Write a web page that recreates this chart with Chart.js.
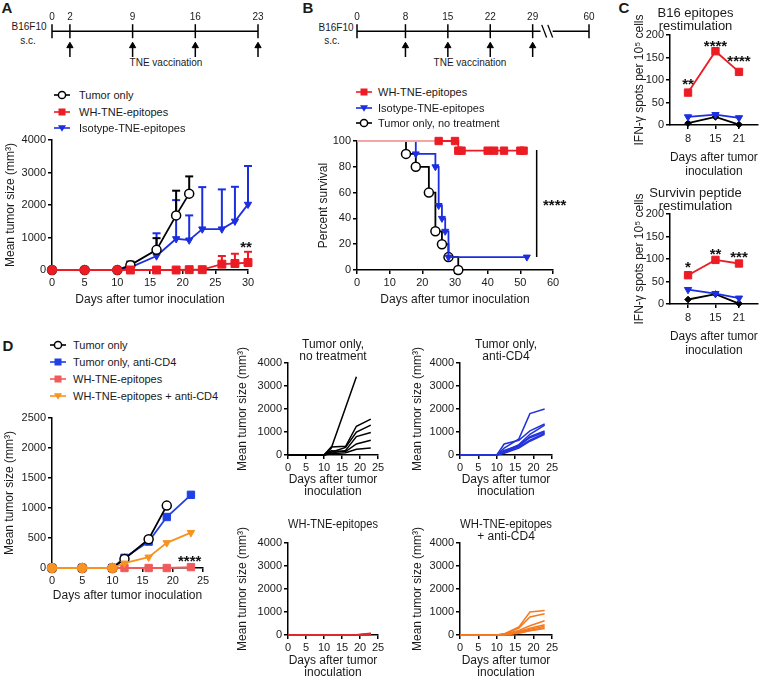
<!DOCTYPE html>
<html>
<head>
<meta charset="utf-8">
<script src="https://cdn.jsdelivr.net/npm/chart.js@4.4.1/dist/chart.umd.min.js"></script>
<style>
  html, body { margin: 0; padding: 0; background: #fff; }
  body { width: 764px; height: 691px; position: relative; overflow: hidden;
         font-family: "Liberation Sans", Arial, Helvetica, sans-serif; color: #1a1a1a; }
  canvas { position: absolute; }
  .txt { position: absolute; white-space: nowrap; line-height: 1; transform: translate(-50%, -50%); }
  .leg { position: absolute; height: 14px; font-size: 11px; white-space: nowrap; z-index: 5; }
</style>
</head>
<body>
<script>
// Tumour growth / survival / ELISpot figure, panels A-D

Chart.defaults.font.family = '"Liberation Sans", Arial, Helvetica, sans-serif';
Chart.defaults.color = '#1a1a1a';

const RED = '#ec1c24', BLUE = '#1b2ee0', BLACK = '#000000', PINK = '#f4a6a6';
const D_BLUE = '#1e40e6', D_RED = '#f15a5a', D_ORANGE = '#f7931e';
const M_BLUE = '#2233d9', M_RED = '#dd2a2a', M_ORANGE = '#f47a20';

// ---------- data ----------
// timelines (days)
const tlADays = [0, 2, 9, 16, 23];
const tlAVacc = [2, 9, 16, 23];
const tlBDays = [0, 8, 15, 22, 29, 60];
const tlBVacc = [8, 15, 22, 29];

// A: mean tumour size (mm3) + upper error bar
const daysA = [0, 5, 10, 12, 16, 19, 21, 23, 26, 28, 30];
const tumorA = [0, 0, 0, 150, 620, 1680, 2350];
const tumorErrA = [0, 0, 0, 260, 980, 2440, 2880];
const whA = [0, 0, 0, 0, 0, 0, 10, 10, 180, 200, 230];
const whErrA = [0, 0, 0, 0, 0, 0, 0, 0, 430, 500, 560];
const isoA = [0, 0, 0, 80, 430, 960, 920, 1260, 1260, 1500, 2020];
const isoErrA = [0, 0, 0, 0, 1130, 2150, 1680, 2550, 2480, 2560, 3200];

// B: percent survival
const survWhDays = [0, 25, 30, 31, 32, 40, 42, 45, 50, 51];
const survWh = [100, 100, 100, 92.5, 92.5, 92.5, 92.5, 92.5, 92.5, 92.5];
const survIsoDays = [0, 18, 24, 25, 26, 27, 28, 52];
const survIso = [100, 90, 80, 50, 40, 30, 10, 10];
const survTumorDays = [0, 15, 18, 22, 24, 26, 28, 31];
const survTumor = [100, 90, 80, 60, 30, 20, 10, 0];

// C: IFN-g spots per 1e5 cells
const daysC = [8, 15, 21];
const b16Wh = [72, 164, 118];
const b16Iso = [18, 23, 16];
const b16Tumor = [4, 18, 1];
const b16Stars = ['**', '****', '****'];
const b16StarY = [100, 184, 151];
const survWhC = [64, 98, 90];
const survIsoC = [32, 23, 13];
const survTumorC = [10, 22, 1];
const survStars = ['*', '**', '***'];
const survStarY = [91, 120, 113];

// D: mean tumour size (mm3)
const daysD = [0, 5, 10, 12, 16, 19, 23];
const tumorD = [0, 0, 0, 150, 480, 1040];
const tumorCd4D = [0, 0, 0, 170, 440, 850, 1220];
const whD = [0, 0, 0, 0, 0, 0, 15];
const whCd4D = [0, 0, 0, 80, 180, 420, 590];

// D: individual mice
const miceTumor = [
  [0, 0, 0, 290, 2060, 3400],
  [0, 0, 0, 350, 380, 1250, 1560],
  [0, 0, 0, 120, 330, 1000, 1300],
  [0, 0, 0, 80, 200, 800, 980],
  [0, 0, 0, 180, 150, 480, 640],
  [0, 0, 0, 50, 100, 250, 300]
];
const miceTumorCd4 = [
  [0, 0, 0, 300, 700, 1800, 2000],
  [0, 0, 0, 480, 640, 1050, 1350],
  [0, 0, 0, 150, 450, 900, 1300],
  [0, 0, 0, 100, 400, 750, 1000],
  [0, 0, 0, 120, 350, 650, 950],
  [0, 0, 0, 80, 300, 600, 900],
  [0, 0, 0, 200, 420, 800, 1050]
];
const miceWh = [
  [0, 0, 0, 0, 0, 10, 80],
  [0, 0, 0, 0, 0, 5, 60],
  [0, 0, 0, 0, 0, 0, 40],
  [0, 0, 0, 0, 0, 0, 20],
  [0, 0, 0, 0, 0, 0, 5]
];
const miceWhCd4 = [
  [0, 0, 0, 50, 350, 1000, 1060],
  [0, 0, 0, 40, 300, 780, 920],
  [0, 0, 0, 30, 200, 400, 620],
  [0, 0, 0, 20, 150, 300, 450],
  [0, 0, 0, 20, 120, 250, 380],
  [0, 0, 0, 10, 100, 200, 320],
  [0, 0, 0, 10, 80, 180, 280]
];

// ---------- helpers ----------
function makeCanvas(b) {
  const c = document.createElement('canvas');
  c.width = b.w; c.height = b.h;
  c.style.left = b.x + 'px'; c.style.top = b.y + 'px';
  c.style.width = b.w + 'px'; c.style.height = b.h + 'px';
  document.body.appendChild(c);
  return c;
}

function txt(s, cx, cy, size, bold) {
  const d = document.createElement('div');
  d.className = 'txt';
  d.textContent = s;
  d.style.left = cx + 'px'; d.style.top = cy + 'px';
  d.style.fontSize = size + 'px';
  if (bold) d.style.fontWeight = 'bold';
  document.body.appendChild(d);
}

const xy = (xs, ys) => ys.map((v, i) => ({x: xs[i], y: v}));

function series(xs, ys, color, o) {
  return Object.assign({
    data: xy(xs, ys), borderColor: color, borderWidth: 1.8, clip: false,
    pointStyle: 'circle', pointRadius: 4.5, pointBackgroundColor: color,
    pointBorderColor: color, pointBorderWidth: 1
  }, o || {});
}

// upper error bars: one small line dataset per point, cap drawn as a 'line' point
function errBars(xs, means, errs, color) {
  const out = [];
  means.forEach((m, i) => {
    if (errs[i] > m) out.push({
      data: [{x: xs[i], y: m}, {x: xs[i], y: errs[i]}], borderColor: color, borderWidth: 2,
      pointStyle: 'line', pointRadius: [0, 4], pointBorderColor: color, pointBorderWidth: 2, clip: false
    });
  });
  return out;
}

function starPlugin(items) {
  return {
    id: 'stars',
    afterDatasetsDraw(chart) {
      const {ctx, scales: {x, y}} = chart;
      ctx.save();
      ctx.fillStyle = '#111';
      ctx.textAlign = 'center';
      ctx.textBaseline = 'alphabetic';
      ctx.font = 'bold 15px "Liberation Sans", Arial, sans-serif';
      items.forEach(s => ctx.fillText(s.text, x.getPixelForValue(s.x), y.getPixelForValue(s.y) + 8.5));
      ctx.restore();
    }
  };
}

function axis(a, which, box, area) {
  const lh = 12 * (a.titleLh || 1.2);
  const s = {
    type: 'linear', min: a.min, max: a.max,
    ticks: {stepSize: a.step, font: {size: 11}, color: '#1a1a1a', padding: a.pad ?? 2,
            autoSkip: false, maxRotation: 0, callback: v => v},
    grid: {drawOnChartArea: false, color: '#000', lineWidth: 1.5, tickLength: 4},
    border: {color: '#000', width: 1.5},
    title: {display: true, text: a.title, color: '#1a1a1a', font: {size: 12, lineHeight: a.titleLh || 1.2}}
  };
  if (which === 'x') {
    s.title.padding = {top: 0, bottom: box.y + box.h - a.titleY - lh / 2};
    s.afterFit = sc => { sc.height = box.y + box.h - area.b; };
  } else {
    s.title.padding = {top: a.titleX - box.x - lh / 2, bottom: 0};
    s.afterFit = sc => { sc.width = area.l - box.x; };
  }
  if (a.ticks) s.afterBuildTicks = sc => { sc.ticks = a.ticks.map(v => ({value: v})); };
  return s;
}

function plot(o) {
  const {box, area} = o;
  const c = makeCanvas(box);
  const opts = {
    responsive: false, animation: false, devicePixelRatio: 1,
    layout: {padding: {left: 0, bottom: 0, right: box.x + box.w - area.r, top: o.title ? 0 : area.t - box.y}},
    plugins: {legend: {display: false}, tooltip: {enabled: false}},
    scales: {x: axis(o.x, 'x', box, area), y: axis(o.y, 'y', box, area)}
  };
  if (o.title) {
    const t = o.title, n = t.text.length;
    const padTop = t.y - t.size / 2 - box.y;
    opts.plugins.title = {
      display: true, text: t.text, color: '#1a1a1a', fullSize: !!t.full,
      font: {size: t.size, weight: 'normal', lineHeight: 1},
      padding: {top: padTop, bottom: area.t - box.y - padTop - n * t.size}
    };
  }
  return new Chart(c, {type: 'line', data: {datasets: o.datasets}, options: opts,
                       plugins: [starPlugin(o.stars || [])]});
}

function timeline(box, area, days, vacc, pos, pieces, slashes) {
  const c = makeCanvas(box);
  const ds = [];
  pieces.forEach(p => ds.push({data: [{x: p[0], y: 0}, {x: p[1], y: 0}], borderColor: '#000',
                               borderWidth: 1.5, pointRadius: 0, clip: false}));
  ds.push({data: days.map(d => ({x: pos(d), y: 0})), showLine: false, pointStyle: 'line',
           pointRotation: 90, pointRadius: 7, pointBorderColor: '#000', pointBorderWidth: 1.5, clip: false});
  vacc.forEach(d => ds.push({data: [{x: pos(d), y: -5.3}, {x: pos(d), y: -9}], borderColor: '#000',
                             borderWidth: 1.5, pointRadius: 0, clip: false}));
  ds.push({data: vacc.map(d => ({x: pos(d), y: -5.1})), showLine: false, pointStyle: 'triangle',
           pointRadius: 3.6, pointBackgroundColor: '#000', pointBorderColor: '#000', pointBorderWidth: 1, clip: false});
  slashes.forEach(s => ds.push({data: [{x: s, y: 2.2}, {x: s + 0.8, y: -2.2}], borderColor: '#000',
                                borderWidth: 1.3, pointRadius: 0, clip: false}));
  new Chart(c, {type: 'line', data: {datasets: ds}, options: {
    responsive: false, animation: false, devicePixelRatio: 1,
    layout: {padding: {left: area.l - box.x, right: box.x + box.w - area.r, top: 0, bottom: box.y + box.h - area.b}},
    plugins: {legend: {display: false}, tooltip: {enabled: false}},
    scales: {
      x: {type: 'linear', position: 'top', min: pos(days[0]), max: pos(days[days.length - 1]),
          grid: {display: false, drawTicks: false}, border: {display: false},
          ticks: {font: {size: 10}, padding: 1, color: '#1a1a1a', autoSkip: false, maxRotation: 0,
                  callback: (v, i) => days[i]},
          afterBuildTicks: s => { s.ticks = days.map(d => ({value: pos(d)})); },
          afterFit: s => { s.height = area.t - box.y; }},
      y: {display: false, min: -10, max: 2.5}
    }
  }});
}

function legendSym(kind, color) {
  if (kind === 'open') return `<circle cx="8" cy="7" r="3.6" fill="#fff" stroke="${color}" stroke-width="1.5"/>`;
  if (kind === 'square') return `<rect x="4.5" y="3.5" width="7" height="7" fill="${color}"/>`;
  return `<polygon points="4,4.2 12,4.2 8,10.8" fill="${color}"/>`;
}

function legend(x, y, gap, textDx, items) {
  items.forEach((it, i) => {
    const d = document.createElement('div');
    d.className = 'leg';
    d.style.left = x + 'px';
    d.style.top = (y + i * gap - 7) + 'px';
    d.innerHTML = `<svg width="16" height="14" style="position:absolute;left:0;top:0">` +
      `<line x1="0" y1="7" x2="16" y2="7" stroke="${it.color}" stroke-width="1.6"/>${legendSym(it.kind, it.color)}</svg>` +
      `<span style="position:absolute;left:${textDx}px;top:0;line-height:14px">${it.label}</span>`;
    document.body.appendChild(d);
  });
}

// ---------- panel letters and timeline text ----------
txt('A', 7, 7, 15, true);
txt('B', 308, 7, 15, true);
txt('C', 624, 7, 15, true);
txt('D', 8, 345, 15, true);
txt('B16F10', 29, 27, 10); txt('s.c.', 28, 41, 10);
txt('B16F10', 336, 28, 10); txt('s.c.', 332, 41, 10);
txt('TNE vaccination', 166, 63, 10);
txt('TNE vaccination', 470, 63, 10);

// ---------- timelines ----------
timeline({x: 0, y: 0, w: 275, h: 75}, {l: 52, r: 258, t: 24, b: 60}, tlADays, tlAVacc, d => d,
         [[0, 23]], []);
const brk = d => d <= 29 ? d : 29 + (d - 29) * 0.3;
timeline({x: 300, y: 0, w: 320, h: 75}, {l: 357, r: 589, t: 24, b: 60}, tlBDays, tlBVacc, brk,
         [[0, 30.3], [32.3, brk(60)]], [30.5, 31.5]);

// ---------- A ----------
const styleA = daysA.map(d => d <= 10 ? 'circle' : 'rect');
plot({
  box: {x: 0, y: 126, w: 262, h: 182}, area: {l: 52, t: 140, r: 248, b: 270},
  x: {min: 0, max: 30, step: 5, title: 'Days after tumor inoculation', titleY: 300},
  y: {min: 0, max: 4000, step: 1000, title: 'Mean tumor size (mm³)', titleX: 11},
  datasets: [
    series(daysA, whA, RED, {pointStyle: styleA, pointRadius: daysA.map(d => d <= 10 ? 4.6 : 5.6)}),
    series(daysA, tumorA, BLACK, {pointBackgroundColor: '#fff', pointBorderWidth: 1.5}),
    series(daysA, isoA, BLUE, {pointStyle: 'triangle', pointRotation: 180, pointRadius: 4.2}),
    ...errBars(daysA, tumorA, tumorErrA, BLACK),
    ...errBars(daysA, isoA, isoErrA, BLUE),
    ...errBars(daysA, whA, whErrA, RED)
  ],
  stars: [{x: 29.7, y: 830, text: '**'}]
});
legend(54, 95, 16.5, 25, [
  {label: 'Tumor only', color: BLACK, kind: 'open'},
  {label: 'WH-TNE-epitopes', color: RED, kind: 'square'},
  {label: 'Isotype-TNE-epitopes', color: BLUE, kind: 'tri'}
]);

// ---------- B ----------
const rads = (n, r) => Array.from({length: n}, (_, i) => i === 0 ? 0 : r);
plot({
  box: {x: 312, y: 127, w: 268, h: 181}, area: {l: 357, t: 141, r: 553, b: 270},
  x: {min: 0, max: 60, step: 10, title: 'Days after tumor inoculation', titleY: 300},
  y: {min: 0, max: 100, step: 20, title: 'Percent survival', titleX: 324},
  datasets: [
    series(survWhDays, survWh, RED, {stepped: true, pointStyle: 'rect', pointRadius: rads(survWh.length, 5.2),
      segment: {borderColor: c => c.p1.parsed.x <= 25 ? PINK : RED}}),
    series(survIsoDays, survIso, BLUE, {stepped: true, pointStyle: 'triangle', pointRotation: 180,
      pointRadius: rads(survIso.length, 4)}),
    series(survTumorDays, survTumor, BLACK, {stepped: true, pointBackgroundColor: '#fff', pointBorderWidth: 1.5,
      pointRadius: rads(survTumor.length, 4.5)}),
    {data: [{x: 55, y: 93}, {x: 55, y: 10}], borderColor: '#000', borderWidth: 1.5, pointRadius: 0, clip: false}
  ],
  stars: [{x: 60.5, y: 53, text: '****'}]
});
legend(356, 92, 15.5, 22, [
  {label: 'WH-TNE-epitopes', color: RED, kind: 'square'},
  {label: 'Isotype-TNE-epitopes', color: BLUE, kind: 'tri'},
  {label: 'Tumor only, no treatment', color: BLACK, kind: 'open'}
]);

// ---------- C ----------
function elispot(boxY, areaT, areaB, titleY, xLastY, title, wh, iso, tum, stars, starY) {
  plot({
    box: {x: 628, y: boxY, w: 136, h: xLastY + 8 - boxY}, area: {l: 670, t: areaT, r: 763, b: areaB},
    title: {text: title, size: 13, y: titleY, full: true},
    x: {min: 3.4, max: 25.8, ticks: daysC, pad: 3, title: ['Days after tumor', 'inoculation'], titleY: xLastY},
    y: {min: 0, max: 200, step: 50, title: 'IFN-γ spots per 10⁵ cells', titleX: 640},
    datasets: [
      series(daysC, wh, RED, {pointStyle: 'rect', pointRadius: 5.2}),
      series(daysC, iso, BLUE, {pointStyle: 'triangle', pointRotation: 180, pointRadius: 4.2}),
      series(daysC, tum, BLACK, {pointStyle: 'rectRot', pointRadius: 3.3})
    ],
    stars: stars.map((s, i) => ({x: daysC[i], y: starY[i], text: s}))
  });
}
elispot(0, 35, 125, 13, 172, ['B16 epitopes', 'restimulation'], b16Wh, b16Iso, b16Tumor, b16Stars, b16StarY);
elispot(180, 214, 304, 193, 351, ['Survivin peptide', 'restimulation'], survWhC, survIsoC, survTumorC, survStars, survStarY);

// ---------- D main ----------
plot({
  box: {x: 0, y: 406, w: 215, h: 198}, area: {l: 52, t: 418, r: 203, b: 568},
  x: {min: 0, max: 25, step: 5, title: 'Days after tumor inoculation', titleY: 596},
  y: {min: 0, max: 2500, step: 500, title: 'Mean tumor size (mm³)', titleX: 10},
  datasets: [
    series(daysD, whCd4D, D_ORANGE, {pointStyle: daysD.map(d => d <= 10 ? 'circle' : 'triangle'),
      pointRotation: 180, pointRadius: daysD.map(d => d <= 10 ? 4.6 : 4.3)}),
    series(daysD, whD, D_RED, {pointStyle: daysD.map(d => d <= 10 ? 'circle' : 'rect'),
      pointRadius: daysD.map(d => d <= 10 ? 4.6 : 5.2)}),
    series(daysD, tumorD, BLACK, {pointBackgroundColor: '#fff', pointBorderWidth: 1.5}),
    series(daysD, tumorCd4D, D_BLUE, {pointStyle: 'rect', pointRadius: 5.2})
  ],
  stars: [{x: 22.8, y: 180, text: '****'}]
});
legend(50, 345, 17, 23, [
  {label: 'Tumor only', color: BLACK, kind: 'open'},
  {label: 'Tumor only, anti-CD4', color: D_BLUE, kind: 'square'},
  {label: 'WH-TNE-epitopes', color: D_RED, kind: 'square'},
  {label: 'WH-TNE-epitopes + anti-CD4', color: D_ORANGE, kind: 'tri'}
]);

// ---------- D individual mice ----------
function mice(bx, by, bw, bh, area, title, titleY, xLastY, yTitleX, lines, color) {
  plot({
    box: {x: bx, y: by, w: bw, h: bh}, area: area,
    title: {text: title, size: 12, y: titleY, full: false},
    x: {min: 0, max: 25, step: 5, title: ['Days after tumor', 'inoculation'], titleY: xLastY, titleLh: 1.05},
    y: {min: 0, max: 4000, step: 1000, title: 'Mean tumor size (mm³)', titleX: yTitleX},
    datasets: lines.map(v => series(daysD, v, color, {pointRadius: 0, borderWidth: 1.5}))
  });
}
mice(234, 338, 158, 161, {l: 288, t: 363, r: 378, b: 455}, ['Tumor only,', 'no treatment'], 345, 492, 243, miceTumor, BLACK);
mice(406, 338, 160, 161, {l: 460, t: 363, r: 552, b: 455}, ['Tumor only,', 'anti-CD4'], 345, 492, 418, miceTumorCd4, M_BLUE);
mice(234, 517, 158, 163, {l: 288, t: 543, r: 378, b: 635}, ['WH-TNE-epitopes'], 525, 673, 243, miceWh, M_RED);
mice(406, 517, 160, 163, {l: 460, t: 543, r: 552, b: 635}, ['WH-TNE-epitopes', '+ anti-CD4'], 525, 673, 418, miceWhCd4, M_ORANGE);
</script>
</body>
</html>
